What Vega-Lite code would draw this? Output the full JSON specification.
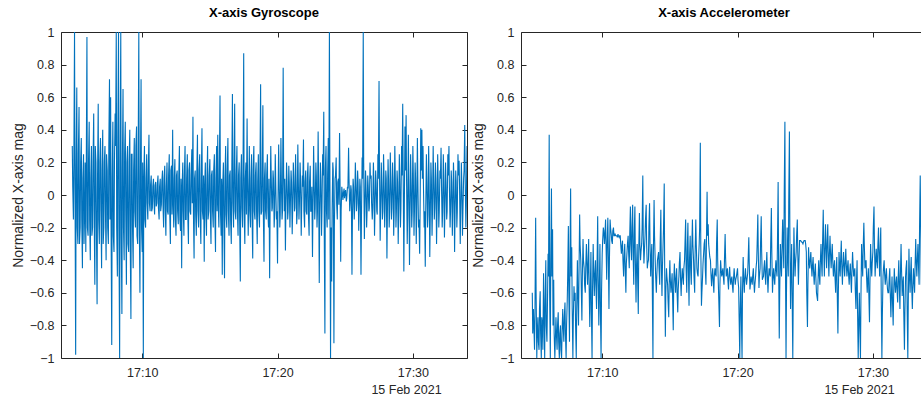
{
"$schema": "https://vega.github.io/schema/vega-lite/v6.json",
"background": "white",
"padding": {"left": 11, "top": 7, "right": 0, "bottom": 0},
"config": {
 "view": {"stroke": null},
 "font": "Liberation Sans",
 "axis": {"labelFont": "Liberation Sans", "labelFontSize": 12.5, "labelColor": "#262626", "domainColor": "#262626", "tickColor": "#262626", "domainWidth": 1, "tickWidth": 1, "tickSize": -5, "grid": false, "titleFont": "Liberation Sans", "titleFontWeight": "normal", "titleColor": "#262626"},
 "title": {"font": "Liberation Sans", "fontSize": 13, "fontWeight": "bold", "color": "#000000", "offset": 6, "baseline": "alphabetic"}
},
"data": {"values": [
{"t":"2021-02-15T17:04:50","g":0.3,"a":-0.6},{"t":"2021-02-15T17:04:52","g":0.05,"a":-0.85},{"t":"2021-02-15T17:04:55","g":-0.15,"a":-0.7},{"t":"2021-02-15T17:04:57","g":0.2,"a":-0.8},
{"t":"2021-02-15T17:05:00","g":1.0,"a":-0.95},{"t":"2021-02-15T17:05:02","g":0.1,"a":-0.7},{"t":"2021-02-15T17:05:05","g":-0.98,"a":-0.14},{"t":"2021-02-15T17:05:07","g":0.15,"a":-0.6},{"t":"2021-02-15T17:05:10","g":0.66,"a":-1.0},{"t":"2021-02-15T17:05:12","g":-0.2,"a":-0.85},{"t":"2021-02-15T17:05:15","g":-0.3,"a":-0.75},{"t":"2021-02-15T17:05:17","g":0.25,"a":-0.9},{"t":"2021-02-15T17:05:20","g":0.54,"a":-0.95},{"t":"2021-02-15T17:05:22","g":-0.3,"a":-0.7},{"t":"2021-02-15T17:05:25","g":-0.2,"a":-0.59},{"t":"2021-02-15T17:05:27","g":0.2,"a":-0.85},{"t":"2021-02-15T17:05:30","g":0.35,"a":-1.0},{"t":"2021-02-15T17:05:32","g":-0.15,"a":-0.75},{"t":"2021-02-15T17:05:35","g":-0.45,"a":-0.8},{"t":"2021-02-15T17:05:37","g":0.1,"a":-0.95},{"t":"2021-02-15T17:05:40","g":0.25,"a":-0.48},{"t":"2021-02-15T17:05:42","g":-0.3,"a":-0.7},{"t":"2021-02-15T17:05:45","g":-0.1,"a":-1.0},{"t":"2021-02-15T17:05:47","g":0.2,"a":-0.65},{"t":"2021-02-15T17:05:50","g":-0.35,"a":-0.4},{"t":"2021-02-15T17:05:52","g":0.15,"a":-0.8},{"t":"2021-02-15T17:05:55","g":0.97,"a":-0.9},{"t":"2021-02-15T17:05:57","g":-0.2,"a":-0.7},
{"t":"2021-02-15T17:06:00","g":-0.25,"a":-0.36},{"t":"2021-02-15T17:06:02","g":0.2,"a":-0.5},{"t":"2021-02-15T17:06:05","g":0.45,"a":0.37},{"t":"2021-02-15T17:06:07","g":-0.15,"a":-0.6},{"t":"2021-02-15T17:06:10","g":-0.4,"a":-1.0},{"t":"2021-02-15T17:06:12","g":0.1,"a":-0.4},{"t":"2021-02-15T17:06:15","g":0.3,"a":0.04},{"t":"2021-02-15T17:06:17","g":-0.25,"a":-0.5},{"t":"2021-02-15T17:06:20","g":-0.2,"a":-0.21},{"t":"2021-02-15T17:06:22","g":0.2,"a":-0.8},{"t":"2021-02-15T17:06:25","g":0.5,"a":-0.52},{"t":"2021-02-15T17:06:27","g":-0.1,"a":-0.85},{"t":"2021-02-15T17:06:30","g":-0.55,"a":-1.0},{"t":"2021-02-15T17:06:32","g":0.3,"a":-0.9},{"t":"2021-02-15T17:06:35","g":0.2,"a":-0.75},{"t":"2021-02-15T17:06:37","g":-0.2,"a":-0.85},{"t":"2021-02-15T17:06:40","g":-0.67,"a":-0.95},{"t":"2021-02-15T17:06:42","g":0.1,"a":-0.8},{"t":"2021-02-15T17:06:45","g":0.56,"a":-0.72},{"t":"2021-02-15T17:06:47","g":-0.15,"a":-0.9},{"t":"2021-02-15T17:06:50","g":-0.3,"a":-1.0},{"t":"2021-02-15T17:06:52","g":0.2,"a":-0.85},{"t":"2021-02-15T17:06:55","g":0.35,"a":-0.8},{"t":"2021-02-15T17:06:57","g":-0.1,"a":-0.95},
{"t":"2021-02-15T17:07:00","g":-0.45,"a":-1.0},{"t":"2021-02-15T17:07:02","g":0.15,"a":-0.85},{"t":"2021-02-15T17:07:05","g":0.4,"a":-0.7},{"t":"2021-02-15T17:07:07","g":-0.3,"a":-0.8},{"t":"2021-02-15T17:07:10","g":-0.2,"a":-0.9},{"t":"2021-02-15T17:07:12","g":0.2,"a":-0.75},{"t":"2021-02-15T17:07:15","g":0.3,"a":-0.66},{"t":"2021-02-15T17:07:17","g":-0.1,"a":-0.85},{"t":"2021-02-15T17:07:20","g":-0.4,"a":-1.0},{"t":"2021-02-15T17:07:22","g":0.25,"a":-0.8},{"t":"2021-02-15T17:07:25","g":0.15,"a":-0.65},{"t":"2021-02-15T17:07:27","g":-0.2,"a":-0.5},{"t":"2021-02-15T17:07:30","g":-0.3,"a":-0.19},{"t":"2021-02-15T17:07:32","g":0.3,"a":-0.6},{"t":"2021-02-15T17:07:35","g":0.71,"a":-0.9},{"t":"2021-02-15T17:07:37","g":-0.15,"a":-0.4},{"t":"2021-02-15T17:07:40","g":0.6,"a":0.04},{"t":"2021-02-15T17:07:42","g":-0.2,"a":-0.5},{"t":"2021-02-15T17:07:45","g":-0.92,"a":-0.32},{"t":"2021-02-15T17:07:47","g":0.1,"a":-0.7},{"t":"2021-02-15T17:07:50","g":0.45,"a":-1.0},{"t":"2021-02-15T17:07:52","g":-0.25,"a":-0.75},{"t":"2021-02-15T17:07:55","g":-0.35,"a":-0.56},{"t":"2021-02-15T17:07:57","g":0.2,"a":-0.65},
{"t":"2021-02-15T17:08:00","g":0.5,"a":-0.6},{"t":"2021-02-15T17:08:02","g":0.3,"a":-0.8},{"t":"2021-02-15T17:08:05","g":1.0,"a":-1.0},{"t":"2021-02-15T17:08:07","g":-0.2,"a":-0.7},{"t":"2021-02-15T17:08:10","g":-0.5,"a":-0.4},{"t":"2021-02-15T17:08:12","g":0.35,"a":-0.6},{"t":"2021-02-15T17:08:15","g":1.0,"a":-0.8},{"t":"2021-02-15T17:08:17","g":-0.3,"a":-0.5},{"t":"2021-02-15T17:08:20","g":-1.0,"a":-0.12},{"t":"2021-02-15T17:08:22","g":0.2,"a":-0.3},{"t":"2021-02-15T17:08:25","g":1.0,"a":-0.4},{"t":"2021-02-15T17:08:27","g":-0.25,"a":-0.55},{"t":"2021-02-15T17:08:30","g":-0.73,"a":-0.77},{"t":"2021-02-15T17:08:32","g":0.15,"a":-0.5},{"t":"2021-02-15T17:08:35","g":0.65,"a":-0.27},{"t":"2021-02-15T17:08:37","g":-0.2,"a":-0.4},{"t":"2021-02-15T17:08:40","g":-0.4,"a":-0.45},{"t":"2021-02-15T17:08:42","g":0.25,"a":-0.55},{"t":"2021-02-15T17:08:45","g":0.45,"a":-0.6},{"t":"2021-02-15T17:08:47","g":-0.1,"a":-0.45},{"t":"2021-02-15T17:08:50","g":-0.55,"a":-0.3},{"t":"2021-02-15T17:08:52","g":0.2,"a":-0.4},{"t":"2021-02-15T17:08:55","g":0.3,"a":-0.55},{"t":"2021-02-15T17:08:57","g":-0.3,"a":-0.45},
{"t":"2021-02-15T17:09:00","g":-0.35,"a":-0.27},{"t":"2021-02-15T17:09:02","g":0.2,"a":-0.55},{"t":"2021-02-15T17:09:05","g":0.4,"a":-0.81},{"t":"2021-02-15T17:09:07","g":-0.3,"a":-0.6},{"t":"2021-02-15T17:09:10","g":-0.76,"a":-0.35},{"t":"2021-02-15T17:09:12","g":0.25,"a":-0.7},{"t":"2021-02-15T17:09:15","g":0.25,"a":-1.0},{"t":"2021-02-15T17:09:17","g":-0.2,"a":-0.6},{"t":"2021-02-15T17:09:20","g":-0.45,"a":-0.3},{"t":"2021-02-15T17:09:22","g":0.15,"a":-0.45},{"t":"2021-02-15T17:09:25","g":0.35,"a":-0.62},{"t":"2021-02-15T17:09:27","g":-0.1,"a":-0.5},{"t":"2021-02-15T17:09:30","g":-0.2,"a":-0.4},{"t":"2021-02-15T17:09:32","g":0.3,"a":-0.55},{"t":"2021-02-15T17:09:35","g":0.42,"a":-0.7},{"t":"2021-02-15T17:09:37","g":-0.25,"a":-0.45},{"t":"2021-02-15T17:09:40","g":-0.3,"a":-0.13},{"t":"2021-02-15T17:09:42","g":0.2,"a":-0.5},{"t":"2021-02-15T17:09:45","g":1.0,"a":-0.8},{"t":"2021-02-15T17:09:47","g":-0.15,"a":-0.6},{"t":"2021-02-15T17:09:50","g":-0.6,"a":-0.3},{"t":"2021-02-15T17:09:52","g":0.1,"a":-0.7},{"t":"2021-02-15T17:09:55","g":0.71,"a":-1.0},{"t":"2021-02-15T17:09:57","g":-0.2,"a":-0.6},
{"t":"2021-02-15T17:10:00","g":-0.35,"a":-0.36},{"t":"2021-02-15T17:10:02","g":0.2,"a":-0.28},{"t":"2021-02-15T17:10:05","g":-1.0,"a":-0.2},{"t":"2021-02-15T17:10:07","g":0.1,"a":-0.22},{"t":"2021-02-15T17:10:10","g":0.3,"a":-0.3},{"t":"2021-02-15T17:10:12","g":-0.15,"a":-0.25},{"t":"2021-02-15T17:10:15","g":-0.2,"a":-0.15},{"t":"2021-02-15T17:10:17","g":0.1,"a":-0.3},{"t":"2021-02-15T17:10:20","g":0.25,"a":-0.52},{"t":"2021-02-15T17:10:22","g":-0.05,"a":-0.3},{"t":"2021-02-15T17:10:25","g":-0.15,"a":-0.14},{"t":"2021-02-15T17:10:27","g":0.15,"a":-0.35},{"t":"2021-02-15T17:10:30","g":0.37,"a":-0.7},{"t":"2021-02-15T17:10:32","g":-0.05,"a":-0.4},{"t":"2021-02-15T17:10:35","g":-0.1,"a":-0.15},{"t":"2021-02-15T17:10:37","g":0.06,"a":-0.2},{"t":"2021-02-15T17:10:40","g":0.12,"a":-0.24},{"t":"2021-02-15T17:10:42","g":-0.1,"a":-0.28},{"t":"2021-02-15T17:10:45","g":-0.08,"a":-0.3},{"t":"2021-02-15T17:10:47","g":0.05,"a":-0.22},{"t":"2021-02-15T17:10:50","g":0.1,"a":-0.2},{"t":"2021-02-15T17:10:52","g":-0.04,"a":-0.25},{"t":"2021-02-15T17:10:55","g":-0.12,"a":-0.25},{"t":"2021-02-15T17:10:57","g":0.06,"a":-0.24},
{"t":"2021-02-15T17:11:00","g":0.08,"a":-0.25},{"t":"2021-02-15T17:11:02","g":-0.07,"a":-0.25},{"t":"2021-02-15T17:11:05","g":-0.05,"a":-0.25},{"t":"2021-02-15T17:11:07","g":0.06,"a":-0.26},{"t":"2021-02-15T17:11:10","g":0.12,"a":-0.24},{"t":"2021-02-15T17:11:12","g":-0.08,"a":-0.25},{"t":"2021-02-15T17:11:15","g":-0.15,"a":-0.26},{"t":"2021-02-15T17:11:17","g":0.05,"a":-0.25},{"t":"2021-02-15T17:11:20","g":0.1,"a":-0.25},{"t":"2021-02-15T17:11:22","g":-0.1,"a":-0.3},{"t":"2021-02-15T17:11:25","g":-0.06,"a":-0.36},{"t":"2021-02-15T17:11:27","g":0.08,"a":-0.32},{"t":"2021-02-15T17:11:30","g":0.15,"a":-0.28},{"t":"2021-02-15T17:11:32","g":-0.05,"a":-0.4},{"t":"2021-02-15T17:11:35","g":-0.2,"a":-0.5},{"t":"2021-02-15T17:11:37","g":0.1,"a":-0.38},{"t":"2021-02-15T17:11:40","g":0.18,"a":-0.3},{"t":"2021-02-15T17:11:42","g":-0.08,"a":-0.45},{"t":"2021-02-15T17:11:45","g":-0.25,"a":-0.6},{"t":"2021-02-15T17:11:47","g":0.05,"a":-0.42},{"t":"2021-02-15T17:11:50","g":0.2,"a":-0.35},{"t":"2021-02-15T17:11:52","g":-0.1,"a":-0.3},{"t":"2021-02-15T17:11:55","g":-0.12,"a":-0.25},{"t":"2021-02-15T17:11:57","g":0.12,"a":-0.35},
{"t":"2021-02-15T17:12:00","g":0.25,"a":-0.45},{"t":"2021-02-15T17:12:02","g":-0.1,"a":-0.25},{"t":"2021-02-15T17:12:05","g":-0.3,"a":-0.07},{"t":"2021-02-15T17:12:07","g":0.15,"a":-0.3},{"t":"2021-02-15T17:12:10","g":0.18,"a":-0.4},{"t":"2021-02-15T17:12:12","g":-0.12,"a":-0.2},{"t":"2021-02-15T17:12:15","g":0.4,"a":-0.06},{"t":"2021-02-15T17:12:17","g":-0.05,"a":-0.35},{"t":"2021-02-15T17:12:20","g":-0.2,"a":-0.55},{"t":"2021-02-15T17:12:22","g":0.1,"a":-0.25},{"t":"2021-02-15T17:12:25","g":0.22,"a":-0.07},{"t":"2021-02-15T17:12:27","g":-0.15,"a":-0.4},{"t":"2021-02-15T17:12:30","g":-0.25,"a":-0.66},{"t":"2021-02-15T17:12:32","g":0.12,"a":-0.45},{"t":"2021-02-15T17:12:35","g":0.15,"a":-0.3},{"t":"2021-02-15T17:12:37","g":-0.1,"a":-0.5},{"t":"2021-02-15T17:12:40","g":-0.18,"a":-0.73},{"t":"2021-02-15T17:12:42","g":0.1,"a":-0.35},{"t":"2021-02-15T17:12:45","g":0.3,"a":-0.11},{"t":"2021-02-15T17:12:47","g":-0.15,"a":-0.3},{"t":"2021-02-15T17:12:50","g":-0.22,"a":-0.4},{"t":"2021-02-15T17:12:52","g":0.1,"a":-0.35},{"t":"2021-02-15T17:12:55","g":-0.45,"a":-0.3},{"t":"2021-02-15T17:12:57","g":0.05,"a":-0.2},
{"t":"2021-02-15T17:13:00","g":0.2,"a":0.12},{"t":"2021-02-15T17:13:02","g":-0.1,"a":-0.25},{"t":"2021-02-15T17:13:05","g":-0.25,"a":-0.42},{"t":"2021-02-15T17:13:07","g":0.12,"a":-0.35},{"t":"2021-02-15T17:13:10","g":0.3,"a":-0.25},{"t":"2021-02-15T17:13:12","g":-0.15,"a":-0.15},{"t":"2021-02-15T17:13:15","g":-0.15,"a":-0.06},{"t":"2021-02-15T17:13:17","g":0.1,"a":-0.3},{"t":"2021-02-15T17:13:20","g":0.25,"a":-0.45},{"t":"2021-02-15T17:13:22","g":-0.12,"a":-0.42},{"t":"2021-02-15T17:13:25","g":-0.3,"a":-0.4},{"t":"2021-02-15T17:13:27","g":0.15,"a":-0.2},{"t":"2021-02-15T17:13:30","g":0.2,"a":-0.05},{"t":"2021-02-15T17:13:32","g":-0.1,"a":-0.3},{"t":"2021-02-15T17:13:35","g":-0.12,"a":-0.5},{"t":"2021-02-15T17:13:37","g":0.12,"a":-0.4},{"t":"2021-02-15T17:13:40","g":0.28,"a":-0.3},{"t":"2021-02-15T17:13:42","g":-0.05,"a":-0.55},{"t":"2021-02-15T17:13:45","g":0.48,"a":-1.0},{"t":"2021-02-15T17:13:47","g":-0.1,"a":-0.35},{"t":"2021-02-15T17:13:50","g":-0.39,"a":-0.03},{"t":"2021-02-15T17:13:52","g":0.1,"a":-0.25},{"t":"2021-02-15T17:13:55","g":0.15,"a":-0.4},{"t":"2021-02-15T17:13:57","g":-0.12,"a":-0.5},
{"t":"2021-02-15T17:14:00","g":-0.25,"a":-0.6},{"t":"2021-02-15T17:14:02","g":0.12,"a":-0.5},{"t":"2021-02-15T17:14:05","g":0.37,"a":-0.4},{"t":"2021-02-15T17:14:07","g":-0.1,"a":-0.38},{"t":"2021-02-15T17:14:10","g":-0.2,"a":-0.35},{"t":"2021-02-15T17:14:12","g":0.15,"a":-0.45},{"t":"2021-02-15T17:14:15","g":0.25,"a":-0.55},{"t":"2021-02-15T17:14:17","g":-0.12,"a":-0.3},{"t":"2021-02-15T17:14:20","g":-0.3,"a":-0.09},{"t":"2021-02-15T17:14:22","g":0.1,"a":-0.4},{"t":"2021-02-15T17:14:25","g":0.41,"a":-0.62},{"t":"2021-02-15T17:14:27","g":-0.1,"a":-0.45},{"t":"2021-02-15T17:14:30","g":-0.15,"a":-0.3},{"t":"2021-02-15T17:14:32","g":0.12,"a":-0.2},{"t":"2021-02-15T17:14:35","g":-0.41,"a":0.07},{"t":"2021-02-15T17:14:37","g":0.05,"a":-0.45},{"t":"2021-02-15T17:14:40","g":0.2,"a":-0.87},{"t":"2021-02-15T17:14:42","g":-0.12,"a":-0.6},{"t":"2021-02-15T17:14:45","g":-0.25,"a":-0.45},{"t":"2021-02-15T17:14:47","g":0.1,"a":-0.5},{"t":"2021-02-15T17:14:50","g":0.3,"a":-0.55},{"t":"2021-02-15T17:14:52","g":-0.15,"a":-0.65},{"t":"2021-02-15T17:14:55","g":-0.1,"a":-0.75},{"t":"2021-02-15T17:14:57","g":0.12,"a":-0.55},
{"t":"2021-02-15T17:15:00","g":0.22,"a":-0.4},{"t":"2021-02-15T17:15:02","g":-0.1,"a":-0.52},{"t":"2021-02-15T17:15:05","g":-0.3,"a":-0.6},{"t":"2021-02-15T17:15:07","g":0.12,"a":-0.55},{"t":"2021-02-15T17:15:10","g":0.15,"a":-0.48},{"t":"2021-02-15T17:15:12","g":-0.1,"a":-0.62},{"t":"2021-02-15T17:15:15","g":-0.2,"a":-0.83},{"t":"2021-02-15T17:15:17","g":0.15,"a":-0.55},{"t":"2021-02-15T17:15:20","g":0.25,"a":-0.42},{"t":"2021-02-15T17:15:22","g":-0.12,"a":-0.5},{"t":"2021-02-15T17:15:25","g":-0.35,"a":-0.6},{"t":"2021-02-15T17:15:27","g":0.1,"a":-0.52},{"t":"2021-02-15T17:15:30","g":0.3,"a":-0.45},{"t":"2021-02-15T17:15:32","g":-0.1,"a":-0.6},{"t":"2021-02-15T17:15:35","g":0.37,"a":-0.72},{"t":"2021-02-15T17:15:37","g":-0.05,"a":-0.58},{"t":"2021-02-15T17:15:40","g":-0.2,"a":-0.5},{"t":"2021-02-15T17:15:42","g":0.15,"a":-0.42},{"t":"2021-02-15T17:15:45","g":0.61,"a":-0.35},{"t":"2021-02-15T17:15:47","g":-0.1,"a":-0.5},{"t":"2021-02-15T17:15:50","g":-0.25,"a":-0.62},{"t":"2021-02-15T17:15:52","g":0.1,"a":-0.52},{"t":"2021-02-15T17:15:55","g":-0.49,"a":-0.45},{"t":"2021-02-15T17:15:57","g":0.05,"a":-0.5},
{"t":"2021-02-15T17:16:00","g":0.2,"a":-0.55},{"t":"2021-02-15T17:16:02","g":-0.15,"a":-0.45},{"t":"2021-02-15T17:16:05","g":-0.51,"a":-0.4},{"t":"2021-02-15T17:16:07","g":0.1,"a":-0.3},{"t":"2021-02-15T17:16:10","g":0.3,"a":-0.15},{"t":"2021-02-15T17:16:12","g":-0.12,"a":-0.45},{"t":"2021-02-15T17:16:15","g":-0.2,"a":-0.6},{"t":"2021-02-15T17:16:17","g":0.15,"a":-0.35},{"t":"2021-02-15T17:16:20","g":0.35,"a":-0.17},{"t":"2021-02-15T17:16:22","g":-0.1,"a":-0.45},{"t":"2021-02-15T17:16:25","g":-0.25,"a":-0.68},{"t":"2021-02-15T17:16:27","g":0.12,"a":-0.4},{"t":"2021-02-15T17:16:30","g":0.15,"a":-0.25},{"t":"2021-02-15T17:16:32","g":-0.15,"a":-0.45},{"t":"2021-02-15T17:16:35","g":-0.3,"a":-0.55},{"t":"2021-02-15T17:16:37","g":0.1,"a":-0.35},{"t":"2021-02-15T17:16:40","g":0.62,"a":-0.15},{"t":"2021-02-15T17:16:42","g":-0.05,"a":-0.3},{"t":"2021-02-15T17:16:45","g":-0.2,"a":-0.4},{"t":"2021-02-15T17:16:47","g":0.15,"a":-0.5},{"t":"2021-02-15T17:16:50","g":0.56,"a":-0.6},{"t":"2021-02-15T17:16:52","g":-0.1,"a":-0.35},{"t":"2021-02-15T17:16:55","g":-0.15,"a":-0.15},{"t":"2021-02-15T17:16:57","g":0.12,"a":-0.3},
{"t":"2021-02-15T17:17:00","g":0.3,"a":-0.45},{"t":"2021-02-15T17:17:02","g":-0.1,"a":-0.48},{"t":"2021-02-15T17:17:05","g":-0.25,"a":-0.5},{"t":"2021-02-15T17:17:07","g":0.12,"a":-0.4},{"t":"2021-02-15T17:17:10","g":0.2,"a":-0.3},{"t":"2021-02-15T17:17:12","g":-0.15,"a":-0.2},{"t":"2021-02-15T17:17:15","g":-0.53,"a":0.32},{"t":"2021-02-15T17:17:17","g":0.1,"a":-0.3},{"t":"2021-02-15T17:17:20","g":0.25,"a":-0.68},{"t":"2021-02-15T17:17:22","g":-0.08,"a":-0.6},{"t":"2021-02-15T17:17:25","g":-0.2,"a":-0.5},{"t":"2021-02-15T17:17:27","g":0.15,"a":-0.42},{"t":"2021-02-15T17:17:30","g":0.87,"a":-0.35},{"t":"2021-02-15T17:17:32","g":-0.1,"a":-0.3},{"t":"2021-02-15T17:17:35","g":-0.3,"a":-0.27},{"t":"2021-02-15T17:17:37","g":0.1,"a":-0.45},{"t":"2021-02-15T17:17:40","g":0.2,"a":-0.55},{"t":"2021-02-15T17:17:42","g":-0.12,"a":-0.3},{"t":"2021-02-15T17:17:45","g":0.47,"a":0.02},{"t":"2021-02-15T17:17:47","g":0.1,"a":-0.25},{"t":"2021-02-15T17:17:50","g":-0.25,"a":-0.18},{"t":"2021-02-15T17:17:52","g":-0.05,"a":-0.3},{"t":"2021-02-15T17:17:55","g":0.3,"a":-0.35},{"t":"2021-02-15T17:17:57","g":-0.1,"a":-0.38},
{"t":"2021-02-15T17:18:00","g":-0.2,"a":-0.4},{"t":"2021-02-15T17:18:02","g":0.1,"a":-0.48},{"t":"2021-02-15T17:18:05","g":0.25,"a":-0.56},{"t":"2021-02-15T17:18:07","g":-0.12,"a":-0.5},{"t":"2021-02-15T17:18:10","g":-0.39,"a":-0.45},{"t":"2021-02-15T17:18:12","g":0.15,"a":-0.52},{"t":"2021-02-15T17:18:15","g":0.3,"a":-0.6},{"t":"2021-02-15T17:18:17","g":-0.1,"a":-0.5},{"t":"2021-02-15T17:18:20","g":-0.15,"a":-0.45},{"t":"2021-02-15T17:18:22","g":0.12,"a":-0.48},{"t":"2021-02-15T17:18:25","g":0.2,"a":-0.5},{"t":"2021-02-15T17:18:27","g":-0.1,"a":-0.3},{"t":"2021-02-15T17:18:30","g":-0.3,"a":-0.15},{"t":"2021-02-15T17:18:32","g":0.08,"a":-0.4},{"t":"2021-02-15T17:18:35","g":0.25,"a":-0.55},{"t":"2021-02-15T17:18:37","g":-0.1,"a":-0.65},{"t":"2021-02-15T17:18:40","g":-0.2,"a":-0.81},{"t":"2021-02-15T17:18:42","g":0.15,"a":-0.55},{"t":"2021-02-15T17:18:45","g":0.68,"a":-0.4},{"t":"2021-02-15T17:18:47","g":-0.12,"a":-0.45},{"t":"2021-02-15T17:18:50","g":-0.1,"a":-0.5},{"t":"2021-02-15T17:18:52","g":0.1,"a":-0.48},{"t":"2021-02-15T17:18:55","g":0.55,"a":-0.45},{"t":"2021-02-15T17:18:57","g":-0.1,"a":-0.5},
{"t":"2021-02-15T17:19:00","g":-0.41,"a":-0.55},{"t":"2021-02-15T17:19:02","g":0.1,"a":-0.4},{"t":"2021-02-15T17:19:05","g":0.2,"a":-0.24},{"t":"2021-02-15T17:19:07","g":-0.1,"a":-0.38},{"t":"2021-02-15T17:19:10","g":-0.15,"a":-0.5},{"t":"2021-02-15T17:19:12","g":0.12,"a":-0.48},{"t":"2021-02-15T17:19:15","g":0.25,"a":-0.45},{"t":"2021-02-15T17:19:17","g":-0.08,"a":-0.52},{"t":"2021-02-15T17:19:20","g":-0.2,"a":-0.58},{"t":"2021-02-15T17:19:22","g":0.1,"a":-0.5},{"t":"2021-02-15T17:19:25","g":-0.51,"a":-0.44},{"t":"2021-02-15T17:19:27","g":-0.1,"a":-0.5},{"t":"2021-02-15T17:19:30","g":0.3,"a":-0.55},{"t":"2021-02-15T17:19:32","g":0.12,"a":-0.52},{"t":"2021-02-15T17:19:35","g":-0.1,"a":-0.5},{"t":"2021-02-15T17:19:37","g":-0.08,"a":-0.55},{"t":"2021-02-15T17:19:40","g":0.15,"a":-0.6},{"t":"2021-02-15T17:19:42","g":0.1,"a":-0.52},{"t":"2021-02-15T17:19:45","g":-0.2,"a":-0.45},{"t":"2021-02-15T17:19:47","g":-0.12,"a":-0.5},{"t":"2021-02-15T17:19:50","g":0.25,"a":-0.55},{"t":"2021-02-15T17:19:52","g":0.08,"a":-0.52},{"t":"2021-02-15T17:19:55","g":-0.15,"a":-0.5},{"t":"2021-02-15T17:19:57","g":-0.1,"a":-0.48},
{"t":"2021-02-15T17:20:00","g":-0.42,"a":-0.45},{"t":"2021-02-15T17:20:02","g":-0.05,"a":-0.52},{"t":"2021-02-15T17:20:05","g":0.31,"a":-0.57},{"t":"2021-02-15T17:20:07","g":0.1,"a":-0.75},{"t":"2021-02-15T17:20:10","g":-0.2,"a":-1.0},{"t":"2021-02-15T17:20:12","g":-0.12,"a":-0.7},{"t":"2021-02-15T17:20:15","g":0.35,"a":-0.5},{"t":"2021-02-15T17:20:17","g":0.08,"a":-0.75},{"t":"2021-02-15T17:20:20","g":-0.15,"a":-1.0},{"t":"2021-02-15T17:20:22","g":-0.1,"a":-0.6},{"t":"2021-02-15T17:20:25","g":0.78,"a":-0.38},{"t":"2021-02-15T17:20:27","g":0.15,"a":-0.5},{"t":"2021-02-15T17:20:30","g":-0.1,"a":-0.6},{"t":"2021-02-15T17:20:32","g":0.1,"a":-0.52},{"t":"2021-02-15T17:20:35","g":-0.34,"a":-0.45},{"t":"2021-02-15T17:20:37","g":-0.08,"a":-0.5},{"t":"2021-02-15T17:20:40","g":0.2,"a":-0.55},{"t":"2021-02-15T17:20:42","g":0.1,"a":-0.52},{"t":"2021-02-15T17:20:45","g":-0.15,"a":-0.48},{"t":"2021-02-15T17:20:47","g":-0.1,"a":-0.4},{"t":"2021-02-15T17:20:50","g":0.18,"a":-0.26},{"t":"2021-02-15T17:20:52","g":0.08,"a":-0.42},{"t":"2021-02-15T17:20:55","g":-0.2,"a":-0.58},{"t":"2021-02-15T17:20:57","g":-0.05,"a":-0.55},
{"t":"2021-02-15T17:21:00","g":0.15,"a":-0.5},{"t":"2021-02-15T17:21:02","g":0.08,"a":-0.52},{"t":"2021-02-15T17:21:05","g":-0.24,"a":-0.55},{"t":"2021-02-15T17:21:07","g":-0.1,"a":-0.5},{"t":"2021-02-15T17:21:10","g":0.2,"a":-0.45},{"t":"2021-02-15T17:21:12","g":0.12,"a":-0.52},{"t":"2021-02-15T17:21:15","g":-0.1,"a":-0.6},{"t":"2021-02-15T17:21:17","g":-0.08,"a":-0.55},{"t":"2021-02-15T17:21:20","g":0.25,"a":-0.5},{"t":"2021-02-15T17:21:22","g":0.1,"a":-0.45},{"t":"2021-02-15T17:21:25","g":-0.18,"a":-0.4},{"t":"2021-02-15T17:21:27","g":-0.12,"a":-0.3},{"t":"2021-02-15T17:21:30","g":0.31,"a":-0.12},{"t":"2021-02-15T17:21:32","g":0.1,"a":-0.35},{"t":"2021-02-15T17:21:35","g":-0.15,"a":-0.57},{"t":"2021-02-15T17:21:37","g":-0.05,"a":-0.5},{"t":"2021-02-15T17:21:40","g":0.2,"a":-0.45},{"t":"2021-02-15T17:21:42","g":0.1,"a":-0.3},{"t":"2021-02-15T17:21:45","g":-0.25,"a":-0.13},{"t":"2021-02-15T17:21:47","g":-0.08,"a":-0.35},{"t":"2021-02-15T17:21:50","g":0.12,"a":-0.52},{"t":"2021-02-15T17:21:52","g":0.05,"a":-0.51},{"t":"2021-02-15T17:21:55","g":0.34,"a":-0.5},{"t":"2021-02-15T17:21:57","g":-0.1,"a":-0.45},
{"t":"2021-02-15T17:22:00","g":-0.2,"a":-0.4},{"t":"2021-02-15T17:22:02","g":0.08,"a":-0.48},{"t":"2021-02-15T17:22:05","g":0.15,"a":-0.55},{"t":"2021-02-15T17:22:07","g":-0.1,"a":-0.45},{"t":"2021-02-15T17:22:10","g":-0.12,"a":-0.35},{"t":"2021-02-15T17:22:12","g":0.1,"a":-0.48},{"t":"2021-02-15T17:22:15","g":0.2,"a":-0.6},{"t":"2021-02-15T17:22:17","g":-0.12,"a":-0.52},{"t":"2021-02-15T17:22:20","g":-0.25,"a":-0.45},{"t":"2021-02-15T17:22:22","g":0.08,"a":-0.48},{"t":"2021-02-15T17:22:25","g":0.18,"a":-0.5},{"t":"2021-02-15T17:22:27","g":-0.1,"a":-0.3},{"t":"2021-02-15T17:22:30","g":-0.1,"a":-0.08},{"t":"2021-02-15T17:22:32","g":0.05,"a":-0.35},{"t":"2021-02-15T17:22:35","g":-0.38,"a":-0.6},{"t":"2021-02-15T17:22:37","g":-0.1,"a":-0.52},{"t":"2021-02-15T17:22:40","g":0.3,"a":-0.45},{"t":"2021-02-15T17:22:42","g":0.1,"a":-0.5},{"t":"2021-02-15T17:22:45","g":-0.15,"a":-0.55},{"t":"2021-02-15T17:22:47","g":-0.08,"a":-0.48},{"t":"2021-02-15T17:22:50","g":0.2,"a":-0.4},{"t":"2021-02-15T17:22:52","g":0.12,"a":-0.45},{"t":"2021-02-15T17:22:55","g":-0.2,"a":-0.5},{"t":"2021-02-15T17:22:57","g":-0.1,"a":-0.3},
{"t":"2021-02-15T17:23:00","g":0.39,"a":0.08},{"t":"2021-02-15T17:23:02","g":0.1,"a":-0.4},{"t":"2021-02-15T17:23:05","g":-0.54,"a":-0.88},{"t":"2021-02-15T17:23:07","g":-0.12,"a":-0.6},{"t":"2021-02-15T17:23:10","g":0.2,"a":-0.3},{"t":"2021-02-15T17:23:12","g":0.1,"a":-0.4},{"t":"2021-02-15T17:23:15","g":-0.25,"a":-0.5},{"t":"2021-02-15T17:23:17","g":-0.1,"a":-0.35},{"t":"2021-02-15T17:23:20","g":0.25,"a":-0.15},{"t":"2021-02-15T17:23:22","g":0.12,"a":-0.3},{"t":"2021-02-15T17:23:25","g":0.51,"a":-0.45},{"t":"2021-02-15T17:23:27","g":-0.2,"a":0.0},{"t":"2021-02-15T17:23:30","g":-0.85,"a":0.45},{"t":"2021-02-15T17:23:32","g":0.15,"a":-0.3},{"t":"2021-02-15T17:23:35","g":0.3,"a":-1.0},{"t":"2021-02-15T17:23:37","g":-0.1,"a":-0.6},{"t":"2021-02-15T17:23:40","g":-0.2,"a":-0.2},{"t":"2021-02-15T17:23:42","g":0.12,"a":-0.35},{"t":"2021-02-15T17:23:45","g":0.35,"a":-0.5},{"t":"2021-02-15T17:23:47","g":-0.15,"a":-0.05},{"t":"2021-02-15T17:23:50","g":1.0,"a":0.39},{"t":"2021-02-15T17:23:52","g":0.2,"a":-0.2},{"t":"2021-02-15T17:23:55","g":-1.0,"a":-0.7},{"t":"2021-02-15T17:23:57","g":-0.2,"a":-0.5},
{"t":"2021-02-15T17:24:00","g":-0.53,"a":-0.3},{"t":"2021-02-15T17:24:02","g":-0.1,"a":-0.6},{"t":"2021-02-15T17:24:05","g":0.2,"a":-1.0},{"t":"2021-02-15T17:24:07","g":0.15,"a":-0.6},{"t":"2021-02-15T17:24:10","g":-0.91,"a":-0.2},{"t":"2021-02-15T17:24:12","g":-0.2,"a":-0.35},{"t":"2021-02-15T17:24:15","g":0.1,"a":-0.5},{"t":"2021-02-15T17:24:17","g":0.12,"a":-0.42},{"t":"2021-02-15T17:24:20","g":0.23,"a":-0.35},{"t":"2021-02-15T17:24:22","g":-0.05,"a":-0.25},{"t":"2021-02-15T17:24:25","g":-0.15,"a":-0.15},{"t":"2021-02-15T17:24:27","g":0.08,"a":-0.35},{"t":"2021-02-15T17:24:30","g":0.1,"a":-0.55},{"t":"2021-02-15T17:24:32","g":-0.06,"a":-0.42},{"t":"2021-02-15T17:24:35","g":0.38,"a":-0.28},{"t":"2021-02-15T17:24:37","g":0.1,"a":-0.28},{"t":"2021-02-15T17:24:40","g":-0.41,"a":-0.28},{"t":"2021-02-15T17:24:42","g":-0.1,"a":-0.285},{"t":"2021-02-15T17:24:45","g":0.05,"a":-0.29},{"t":"2021-02-15T17:24:47","g":0.02,"a":-0.29},{"t":"2021-02-15T17:24:50","g":-0.03,"a":-0.3},{"t":"2021-02-15T17:24:52","g":0.01,"a":-0.29},{"t":"2021-02-15T17:24:55","g":0.04,"a":-0.28},{"t":"2021-02-15T17:24:57","g":-0.02,"a":-0.28},
{"t":"2021-02-15T17:25:00","g":0.02,"a":-0.28},{"t":"2021-02-15T17:25:02","g":0.03,"a":-0.3},{"t":"2021-02-15T17:25:05","g":-0.04,"a":-0.35},{"t":"2021-02-15T17:25:07","g":-0.02,"a":-0.6},{"t":"2021-02-15T17:25:10","g":0.05,"a":-0.81},{"t":"2021-02-15T17:25:12","g":0.04,"a":-0.55},{"t":"2021-02-15T17:25:15","g":0.29,"a":-0.32},{"t":"2021-02-15T17:25:17","g":0.1,"a":-0.4},{"t":"2021-02-15T17:25:20","g":-0.1,"a":-0.45},{"t":"2021-02-15T17:25:22","g":-0.05,"a":-0.4},{"t":"2021-02-15T17:25:25","g":0.06,"a":-0.35},{"t":"2021-02-15T17:25:27","g":0.03,"a":-0.42},{"t":"2021-02-15T17:25:30","g":-0.49,"a":-0.5},{"t":"2021-02-15T17:25:32","g":-0.15,"a":-0.44},{"t":"2021-02-15T17:25:35","g":0.1,"a":-0.38},{"t":"2021-02-15T17:25:37","g":0.05,"a":-0.47},{"t":"2021-02-15T17:25:40","g":-0.15,"a":-0.55},{"t":"2021-02-15T17:25:42","g":-0.08,"a":-0.48},{"t":"2021-02-15T17:25:45","g":0.2,"a":-0.42},{"t":"2021-02-15T17:25:47","g":0.1,"a":-0.5},{"t":"2021-02-15T17:25:50","g":-0.1,"a":-0.6},{"t":"2021-02-15T17:25:52","g":-0.05,"a":-0.62},{"t":"2021-02-15T17:25:55","g":0.15,"a":-0.65},{"t":"2021-02-15T17:25:57","g":0.08,"a":-0.52},
{"t":"2021-02-15T17:26:00","g":-0.22,"a":-0.4},{"t":"2021-02-15T17:26:02","g":-0.1,"a":-0.48},{"t":"2021-02-15T17:26:05","g":0.1,"a":-0.55},{"t":"2021-02-15T17:26:07","g":0.05,"a":-0.42},{"t":"2021-02-15T17:26:10","g":-0.49,"a":-0.3},{"t":"2021-02-15T17:26:12","g":-0.15,"a":-0.4},{"t":"2021-02-15T17:26:15","g":0.23,"a":-0.5},{"t":"2021-02-15T17:26:17","g":0.1,"a":-0.3},{"t":"2021-02-15T17:26:20","g":1.0,"a":-0.09},{"t":"2021-02-15T17:26:22","g":0.2,"a":-0.3},{"t":"2021-02-15T17:26:25","g":-0.27,"a":-0.5},{"t":"2021-02-15T17:26:27","g":-0.1,"a":-0.35},{"t":"2021-02-15T17:26:30","g":0.15,"a":-0.18},{"t":"2021-02-15T17:26:32","g":0.08,"a":-0.32},{"t":"2021-02-15T17:26:35","g":-0.2,"a":-0.45},{"t":"2021-02-15T17:26:37","g":-0.1,"a":-0.3},{"t":"2021-02-15T17:26:40","g":0.12,"a":-0.18},{"t":"2021-02-15T17:26:42","g":0.05,"a":-0.35},{"t":"2021-02-15T17:26:45","g":-0.1,"a":-0.5},{"t":"2021-02-15T17:26:47","g":-0.08,"a":-0.38},{"t":"2021-02-15T17:26:50","g":0.2,"a":-0.25},{"t":"2021-02-15T17:26:52","g":0.1,"a":-0.35},{"t":"2021-02-15T17:26:55","g":0.12,"a":-0.45},{"t":"2021-02-15T17:26:57","g":-0.05,"a":-0.38},
{"t":"2021-02-15T17:27:00","g":-0.15,"a":-0.3},{"t":"2021-02-15T17:27:02","g":-0.08,"a":-0.4},{"t":"2021-02-15T17:27:05","g":0.2,"a":-0.5},{"t":"2021-02-15T17:27:07","g":0.1,"a":-0.45},{"t":"2021-02-15T17:27:10","g":-0.25,"a":-0.4},{"t":"2021-02-15T17:27:12","g":-0.1,"a":-0.5},{"t":"2021-02-15T17:27:15","g":0.15,"a":-0.6},{"t":"2021-02-15T17:27:17","g":0.08,"a":-0.48},{"t":"2021-02-15T17:27:20","g":-0.1,"a":-0.38},{"t":"2021-02-15T17:27:22","g":-0.12,"a":-0.6},{"t":"2021-02-15T17:27:25","g":0.25,"a":-0.85},{"t":"2021-02-15T17:27:27","g":0.1,"a":-0.6},{"t":"2021-02-15T17:27:30","g":0.7,"a":-0.35},{"t":"2021-02-15T17:27:32","g":0.15,"a":-0.42},{"t":"2021-02-15T17:27:35","g":-0.28,"a":-0.5},{"t":"2021-02-15T17:27:37","g":-0.1,"a":-0.4},{"t":"2021-02-15T17:27:40","g":0.2,"a":-0.28},{"t":"2021-02-15T17:27:42","g":0.08,"a":-0.42},{"t":"2021-02-15T17:27:45","g":-0.15,"a":-0.55},{"t":"2021-02-15T17:27:47","g":-0.1,"a":-0.45},{"t":"2021-02-15T17:27:50","g":0.25,"a":-0.35},{"t":"2021-02-15T17:27:52","g":0.12,"a":-0.42},{"t":"2021-02-15T17:27:55","g":-0.2,"a":-0.5},{"t":"2021-02-15T17:27:57","g":-0.08,"a":-0.42},
{"t":"2021-02-15T17:28:00","g":0.15,"a":-0.33},{"t":"2021-02-15T17:28:02","g":0.1,"a":-0.42},{"t":"2021-02-15T17:28:05","g":-0.39,"a":-0.5},{"t":"2021-02-15T17:28:07","g":-0.12,"a":-0.45},{"t":"2021-02-15T17:28:10","g":0.22,"a":-0.4},{"t":"2021-02-15T17:28:12","g":0.1,"a":-0.48},{"t":"2021-02-15T17:28:15","g":-0.2,"a":-0.55},{"t":"2021-02-15T17:28:17","g":-0.1,"a":-0.48},{"t":"2021-02-15T17:28:20","g":0.26,"a":-0.42},{"t":"2021-02-15T17:28:22","g":0.12,"a":-0.5},{"t":"2021-02-15T17:28:25","g":-0.15,"a":-0.6},{"t":"2021-02-15T17:28:27","g":-0.08,"a":-0.48},{"t":"2021-02-15T17:28:30","g":0.2,"a":-0.35},{"t":"2021-02-15T17:28:32","g":0.1,"a":-0.42},{"t":"2021-02-15T17:28:35","g":-0.25,"a":-0.5},{"t":"2021-02-15T17:28:37","g":-0.1,"a":-0.48},{"t":"2021-02-15T17:28:40","g":0.3,"a":-0.45},{"t":"2021-02-15T17:28:42","g":0.12,"a":-0.58},{"t":"2021-02-15T17:28:45","g":-0.2,"a":-0.7},{"t":"2021-02-15T17:28:47","g":-0.1,"a":-0.55},{"t":"2021-02-15T17:28:50","g":0.15,"a":-0.4},{"t":"2021-02-15T17:28:52","g":0.08,"a":-0.7},{"t":"2021-02-15T17:28:55","g":-0.3,"a":-1.0},{"t":"2021-02-15T17:28:57","g":-0.12,"a":-0.8},
{"t":"2021-02-15T17:29:00","g":0.25,"a":-0.6},{"t":"2021-02-15T17:29:02","g":0.1,"a":-0.8},{"t":"2021-02-15T17:29:05","g":-0.2,"a":-1.0},{"t":"2021-02-15T17:29:07","g":-0.08,"a":-0.65},{"t":"2021-02-15T17:29:10","g":0.3,"a":-0.3},{"t":"2021-02-15T17:29:12","g":0.12,"a":-0.4},{"t":"2021-02-15T17:29:15","g":0.56,"a":-0.5},{"t":"2021-02-15T17:29:17","g":0.15,"a":-0.33},{"t":"2021-02-15T17:29:20","g":-0.47,"a":-0.17},{"t":"2021-02-15T17:29:22","g":-0.1,"a":-0.3},{"t":"2021-02-15T17:29:25","g":0.42,"a":-0.45},{"t":"2021-02-15T17:29:27","g":0.15,"a":-0.42},{"t":"2021-02-15T17:29:30","g":0.49,"a":-0.4},{"t":"2021-02-15T17:29:32","g":0.1,"a":-0.5},{"t":"2021-02-15T17:29:35","g":-0.3,"a":-0.6},{"t":"2021-02-15T17:29:37","g":-0.12,"a":-0.52},{"t":"2021-02-15T17:29:40","g":0.37,"a":-0.45},{"t":"2021-02-15T17:29:42","g":0.1,"a":-0.6},{"t":"2021-02-15T17:29:45","g":-0.43,"a":-0.78},{"t":"2021-02-15T17:29:47","g":-0.15,"a":-0.55},{"t":"2021-02-15T17:29:50","g":0.25,"a":-0.3},{"t":"2021-02-15T17:29:52","g":0.1,"a":-0.4},{"t":"2021-02-15T17:29:55","g":-0.2,"a":-0.5},{"t":"2021-02-15T17:29:57","g":-0.1,"a":-0.42},
{"t":"2021-02-15T17:30:00","g":0.3,"a":-0.35},{"t":"2021-02-15T17:30:02","g":0.12,"a":-0.2},{"t":"2021-02-15T17:30:05","g":-0.25,"a":-0.07},{"t":"2021-02-15T17:30:07","g":-0.1,"a":-0.3},{"t":"2021-02-15T17:30:10","g":0.2,"a":-0.5},{"t":"2021-02-15T17:30:12","g":0.1,"a":-0.42},{"t":"2021-02-15T17:30:15","g":-0.3,"a":-0.33},{"t":"2021-02-15T17:30:17","g":-0.12,"a":-0.4},{"t":"2021-02-15T17:30:20","g":0.35,"a":-0.45},{"t":"2021-02-15T17:30:22","g":0.1,"a":-0.32},{"t":"2021-02-15T17:30:25","g":-0.2,"a":-0.2},{"t":"2021-02-15T17:30:27","g":-0.15,"a":-0.35},{"t":"2021-02-15T17:30:30","g":-0.36,"a":-0.5},{"t":"2021-02-15T17:30:32","g":-0.1,"a":-0.35},{"t":"2021-02-15T17:30:35","g":0.41,"a":-0.2},{"t":"2021-02-15T17:30:37","g":0.15,"a":-0.6},{"t":"2021-02-15T17:30:40","g":0.4,"a":-1.0},{"t":"2021-02-15T17:30:42","g":0.1,"a":-0.75},{"t":"2021-02-15T17:30:45","g":0.3,"a":-0.5},{"t":"2021-02-15T17:30:47","g":0.05,"a":-0.45},{"t":"2021-02-15T17:30:50","g":-0.2,"a":-0.4},{"t":"2021-02-15T17:30:52","g":-0.1,"a":-0.48},{"t":"2021-02-15T17:30:55","g":-0.44,"a":-0.55},{"t":"2021-02-15T17:30:57","g":-0.1,"a":-0.5},
{"t":"2021-02-15T17:31:00","g":0.25,"a":-0.45},{"t":"2021-02-15T17:31:02","g":0.1,"a":-0.52},{"t":"2021-02-15T17:31:05","g":-0.2,"a":-0.58},{"t":"2021-02-15T17:31:07","g":-0.12,"a":-0.6},{"t":"2021-02-15T17:31:10","g":0.3,"a":-0.6},{"t":"2021-02-15T17:31:12","g":0.1,"a":-0.52},{"t":"2021-02-15T17:31:15","g":-0.38,"a":-0.45},{"t":"2021-02-15T17:31:17","g":-0.15,"a":-0.6},{"t":"2021-02-15T17:31:20","g":0.2,"a":-0.75},{"t":"2021-02-15T17:31:22","g":0.1,"a":-0.62},{"t":"2021-02-15T17:31:25","g":-0.25,"a":-0.5},{"t":"2021-02-15T17:31:27","g":-0.1,"a":-0.65},{"t":"2021-02-15T17:31:30","g":0.3,"a":-0.8},{"t":"2021-02-15T17:31:32","g":0.12,"a":-0.62},{"t":"2021-02-15T17:31:35","g":-0.15,"a":-0.45},{"t":"2021-02-15T17:31:37","g":-0.08,"a":-0.52},{"t":"2021-02-15T17:31:40","g":0.2,"a":-0.6},{"t":"2021-02-15T17:31:42","g":0.1,"a":-0.55},{"t":"2021-02-15T17:31:45","g":-0.3,"a":-0.5},{"t":"2021-02-15T17:31:47","g":-0.12,"a":-0.58},{"t":"2021-02-15T17:31:50","g":0.25,"a":-0.66},{"t":"2021-02-15T17:31:52","g":0.1,"a":-0.52},{"t":"2021-02-15T17:31:55","g":-0.2,"a":-0.4},{"t":"2021-02-15T17:31:57","g":-0.1,"a":-0.55},
{"t":"2021-02-15T17:32:00","g":0.15,"a":-0.7},{"t":"2021-02-15T17:32:02","g":0.1,"a":-0.5},{"t":"2021-02-15T17:32:05","g":0.29,"a":-0.3},{"t":"2021-02-15T17:32:07","g":0.05,"a":-0.45},{"t":"2021-02-15T17:32:10","g":-0.2,"a":-0.62},{"t":"2021-02-15T17:32:12","g":-0.1,"a":-0.55},{"t":"2021-02-15T17:32:15","g":0.25,"a":-0.5},{"t":"2021-02-15T17:32:17","g":0.12,"a":-0.72},{"t":"2021-02-15T17:32:20","g":-0.26,"a":-0.95},{"t":"2021-02-15T17:32:22","g":-0.1,"a":-0.72},{"t":"2021-02-15T17:32:25","g":0.2,"a":-0.5},{"t":"2021-02-15T17:32:27","g":0.08,"a":-0.45},{"t":"2021-02-15T17:32:30","g":-0.15,"a":-0.4},{"t":"2021-02-15T17:32:32","g":-0.1,"a":-0.7},{"t":"2021-02-15T17:32:35","g":0.25,"a":-1.0},{"t":"2021-02-15T17:32:37","g":0.12,"a":-0.65},{"t":"2021-02-15T17:32:40","g":0.3,"a":-0.33},{"t":"2021-02-15T17:32:42","g":0.05,"a":-0.48},{"t":"2021-02-15T17:32:45","g":-0.2,"a":-0.6},{"t":"2021-02-15T17:32:47","g":-0.1,"a":-0.5},{"t":"2021-02-15T17:32:50","g":0.15,"a":-0.38},{"t":"2021-02-15T17:32:52","g":0.08,"a":-0.55},{"t":"2021-02-15T17:32:55","g":-0.25,"a":-0.7},{"t":"2021-02-15T17:32:57","g":-0.1,"a":-0.58},
{"t":"2021-02-15T17:33:00","g":0.2,"a":-0.45},{"t":"2021-02-15T17:33:02","g":0.1,"a":-0.52},{"t":"2021-02-15T17:33:05","g":-0.35,"a":-0.6},{"t":"2021-02-15T17:33:07","g":-0.12,"a":-0.45},{"t":"2021-02-15T17:33:10","g":0.15,"a":-0.27},{"t":"2021-02-15T17:33:12","g":0.08,"a":-0.4},{"t":"2021-02-15T17:33:15","g":-0.2,"a":-0.5},{"t":"2021-02-15T17:33:17","g":-0.1,"a":-0.4},{"t":"2021-02-15T17:33:20","g":0.25,"a":-0.3},{"t":"2021-02-15T17:33:22","g":0.12,"a":-0.42},{"t":"2021-02-15T17:33:25","g":0.21,"a":-0.55},{"t":"2021-02-15T17:33:27","g":0.05,"a":-0.2},{"t":"2021-02-15T17:33:30","g":-0.3,"a":0.12},{"t":"2021-02-15T17:33:32","g":-0.1,"a":-0.2},{"t":"2021-02-15T17:33:35","g":0.2,"a":-0.55},{"t":"2021-02-15T17:33:37","g":0.08,"a":-0.42},{"t":"2021-02-15T17:33:40","g":-0.25,"a":-0.28},{"t":"2021-02-15T17:33:42","g":-0.1,"a":-0.38},{"t":"2021-02-15T17:33:45","g":0.1,"a":-0.45},{"t":"2021-02-15T17:33:47","g":0.15,"a":-0.38},{"t":"2021-02-15T17:33:50","g":0.43,"a":-0.3},{"t":"2021-02-15T17:33:52","g":0.1,"a":-0.4},{"t":"2021-02-15T17:33:55","g":-0.2,"a":-0.5},{"t":"2021-02-15T17:33:57","g":-0.05,"a":-0.45},
{"t":"2021-02-15T17:34:00","g":0.3,"a":-0.4}
]},
"spacing": 54,
"bounds": "flush",
"hconcat": [
 {
  "width": 406, "height": 326,
  "title": {"text": "X-axis Gyroscope"},
  "layer": [
   {
    "mark": {"type": "line", "color": "#0072BD", "strokeWidth": 1.1, "clip": true},
    "encoding": {
     "x": {"field": "t", "type": "temporal",
      "scale": {"domain": [{"year": 2021, "month": 2, "date": 15, "hours": 17, "minutes": 4}, {"year": 2021, "month": 2, "date": 15, "hours": 17, "minutes": 34}]},
      "axis": {"orient": "bottom", "values": [{"year": 2021, "month": 2, "date": 15, "hours": 17, "minutes": 10}, {"year": 2021, "month": 2, "date": 15, "hours": 17, "minutes": 20}, {"year": 2021, "month": 2, "date": 15, "hours": 17, "minutes": 30}], "format": "%H:%M", "labelPadding": 13, "title": "15 Feb 2021", "titleFontSize": 12.5, "titleX": 345, "titleY": 25, "titleAlign": "center", "titleBaseline": "top", "titleAngle": 0}},
     "y": {"field": "g", "type": "quantitative",
      "scale": {"domain": [-1, 1], "nice": false},
      "axis": {"orient": "left", "values": [-1, -0.8, -0.6, -0.4, -0.2, 0, 0.2, 0.4, 0.6, 0.8, 1], "format": ".1~f", "labelPadding": 12, "title": "Normalized X-axis mag", "titleFontSize": 14, "titlePadding": 4}}
    }
   },
   {
    "mark": {"type": "point", "opacity": 0},
    "transform": [{"filter": "false"}],
    "encoding": {
     "x": {"field": "t", "type": "temporal",
      "scale": {"domain": [{"year": 2021, "month": 2, "date": 15, "hours": 17, "minutes": 4}, {"year": 2021, "month": 2, "date": 15, "hours": 17, "minutes": 34}]},
      "axis": {"orient": "top", "values": [{"year": 2021, "month": 2, "date": 15, "hours": 17, "minutes": 10}, {"year": 2021, "month": 2, "date": 15, "hours": 17, "minutes": 20}, {"year": 2021, "month": 2, "date": 15, "hours": 17, "minutes": 30}], "labels": false, "title": null}},
     "y": {"field": "g", "type": "quantitative",
      "scale": {"domain": [-1, 1], "nice": false},
      "axis": {"orient": "right", "values": [-1, -0.8, -0.6, -0.4, -0.2, 0, 0.2, 0.4, 0.6, 0.8, 1], "labels": false, "title": null}}
    }
   }
  ],
  "resolve": {"axis": {"x": "independent", "y": "independent"}}
 },
 {
  "width": 400, "height": 326,
  "title": {"text": "X-axis Accelerometer", "dx": 3},
  "layer": [
   {
    "mark": {"type": "line", "color": "#0072BD", "strokeWidth": 1.1, "clip": true},
    "encoding": {
     "x": {"field": "t", "type": "temporal",
      "scale": {"domain": [{"year": 2021, "month": 2, "date": 15, "hours": 17, "minutes": 4}, {"year": 2021, "month": 2, "date": 15, "hours": 17, "minutes": 33, "seconds": 33, "milliseconds": 400}]},
      "axis": {"orient": "bottom", "values": [{"year": 2021, "month": 2, "date": 15, "hours": 17, "minutes": 10}, {"year": 2021, "month": 2, "date": 15, "hours": 17, "minutes": 20}, {"year": 2021, "month": 2, "date": 15, "hours": 17, "minutes": 30}], "format": "%H:%M", "labelPadding": 13, "title": "15 Feb 2021", "titleFontSize": 12.5, "titleX": 338, "titleY": 25, "titleAlign": "center", "titleBaseline": "top", "titleAngle": 0}},
     "y": {"field": "a", "type": "quantitative",
      "scale": {"domain": [-1, 1], "nice": false},
      "axis": {"orient": "left", "values": [-1, -0.8, -0.6, -0.4, -0.2, 0, 0.2, 0.4, 0.6, 0.8, 1], "format": ".1~f", "labelPadding": 12, "title": "Normalized X-axis mag", "titleFontSize": 14, "titlePadding": 4}}
    }
   },
   {
    "mark": {"type": "point", "opacity": 0},
    "transform": [{"filter": "false"}],
    "encoding": {
     "x": {"field": "t", "type": "temporal",
      "scale": {"domain": [{"year": 2021, "month": 2, "date": 15, "hours": 17, "minutes": 4}, {"year": 2021, "month": 2, "date": 15, "hours": 17, "minutes": 33, "seconds": 33, "milliseconds": 400}]},
      "axis": {"orient": "top", "values": [{"year": 2021, "month": 2, "date": 15, "hours": 17, "minutes": 10}, {"year": 2021, "month": 2, "date": 15, "hours": 17, "minutes": 20}, {"year": 2021, "month": 2, "date": 15, "hours": 17, "minutes": 30}], "labels": false, "title": null}}
    }
   }
  ],
  "resolve": {"axis": {"x": "independent", "y": "independent"}}
 }
]
}
